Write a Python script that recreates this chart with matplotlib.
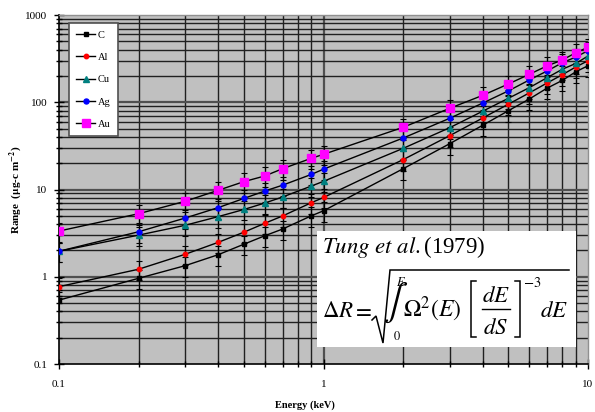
import matplotlib
matplotlib.use("Agg")
import matplotlib.pyplot as plt
import numpy as np
from matplotlib.lines import Line2D
from matplotlib.ticker import LogLocator, FixedLocator, NullFormatter, FixedFormatter

plt.rcParams['font.family'] = ['Liberation Serif', 'DejaVu Serif']
plt.rcParams['mathtext.fontset'] = 'stix'

energy = [0.1, 0.2, 0.3, 0.4, 0.5, 0.6, 0.7, 0.9, 1.0, 2, 3, 4, 5, 6, 7, 8, 9, 10]
range_C  = [0.54, 0.96, 1.34, 1.79, 2.36, 2.95, 3.52, 5.0, 5.7, 17.3, 33.5, 54.5, 80, 109, 145, 178, 224, 262]
range_Al = [0.77, 1.22, 1.81, 2.48, 3.24, 4.1, 4.97, 7.06, 8.1, 22.0, 41.4, 66, 95, 128, 166, 207, 254, 299]
range_Cu = [1.96, 3.0, 3.89, 4.89, 5.9, 7.0, 8.2, 10.96, 12.4, 29.6, 51.1, 79, 111, 147, 191, 239, 279, 339]
range_Ag = [1.96, 3.28, 4.71, 6.2, 7.9, 9.6, 11.2, 14.9, 17.1, 38.9, 65.5, 97.9, 135, 180, 228, 284, 330, 390]
range_Au = [3.34, 5.28, 7.33, 9.8, 12.3, 14.3, 17.3, 22.8, 25.3, 51.6, 85.2, 120, 162, 209, 261, 305, 370, 427]
rel_err = 0.25
series_names = ['C', 'Al', 'Cu', 'Ag', 'Au']
x_tick_labels = ['0.1', '1', '10']
y_tick_labels = ['0.1', '1', '10', '100', '1000']

series = [range_C, range_Al, range_Cu, range_Ag, range_Au]
colors = ['#000000', '#FF0000', '#008080', '#0000FF', '#FF00FF']
markers = ['s', 'o', '^', 'o', 's']
msizes = [3.0, 3.2, 4.0, 3.6, 5.2]

W, H = 595, 412
fig = plt.figure(figsize=(W / 100, H / 100), dpi=100)
ax = fig.add_axes([59/W, 1-364/H, (588-59)/W, (364-15)/H])
ax.set_facecolor('#C0C0C0')
ax.set_xscale('log')
ax.set_yscale('log')
ax.set_xlim(0.1, 10)
ax.set_ylim(0.1, 1000)

def P(x, y):
    return (x / W, 1 - y / H)

def L(xs, ys, lw=1.1):
    fig.add_artist(Line2D([x / W for x in xs], [1 - y / H for y in ys], color='black', lw=lw,
                          transform=fig.transFigure, zorder=7, solid_joinstyle='miter'))

# grid
for k in range(-1, 1):
    for m in range(1, 10):
        v = m * 10.0**k
        if 0.1 < v < 10:
            ax.axvline(v, color='#202020' if m != 1 else '#505050', lw=1.0 if m != 1 else 1.6, zorder=1)
for k in range(-1, 3):
    for m in range(1, 10):
        v = m * 10.0**k
        if 0.1 < v < 1000:
            ax.axhline(v, color='#202020' if m != 1 else '#505050', lw=1.0 if m != 1 else 1.6, zorder=1)

handles = []
for name, vals, c, mk, ms in zip(series_names, series, colors, markers, msizes):
    y = np.array(vals)
    ax.errorbar(energy, y, yerr=rel_err * y, fmt='none', ecolor='black', elinewidth=0.8,
                capsize=2.5, capthick=0.8, zorder=3)
    h, = ax.plot(energy, y, color='black', lw=1.0, marker=mk, markersize=ms,
                 markerfacecolor=c, markeredgecolor=c, zorder=4, label=name)
    handles.append(h)

ax.xaxis.set_major_locator(FixedLocator([0.1, 1, 10]))
ax.xaxis.set_major_formatter(FixedFormatter(x_tick_labels))
ax.xaxis.set_minor_locator(LogLocator(base=10, subs=np.arange(2, 10)))
ax.xaxis.set_minor_formatter(NullFormatter())
ax.yaxis.set_major_locator(FixedLocator([0.1, 1, 10, 100, 1000]))
ax.yaxis.set_major_formatter(FixedFormatter(y_tick_labels))
ax.yaxis.set_minor_locator(LogLocator(base=10, subs=np.arange(2, 10)))
ax.yaxis.set_minor_formatter(NullFormatter())
ax.tick_params(axis='both', which='both', direction='inout', color='black', width=1.0,
               labelsize=8, top=False, right=False)
ax.tick_params(axis='both', which='major', length=7)
ax.tick_params(axis='both', which='minor', length=5)
ax.tick_params(axis='x', which='major', pad=8)
ax.tick_params(axis='y', which='major', pad=5)

for side in ['left', 'bottom']:
    ax.spines[side].set_color('black')
    ax.spines[side].set_linewidth(1.2)
for side in ['top', 'right']:
    ax.spines[side].set_color('#909090')
    ax.spines[side].set_linewidth(1.0)

fig.text(*P(305, 405), 'Energy (keV)', fontsize=7.5, fontweight='bold', ha='center', va='center')
fig.text(*P(16, 190), r'Range  ($\mathbf{\mu}$g-c m$^{\mathbf{-2}}$)', fontsize=8, fontweight='bold',
         rotation=90, ha='center', va='center')

leg = ax.legend(handles=handles, loc='upper left', bbox_to_anchor=(10/529, 1-8/349),
                borderaxespad=0, fontsize=7.5, frameon=True, fancybox=False, edgecolor='#505050',
                framealpha=1.0, handlelength=1.8, labelspacing=1.25, borderpad=0.7,
                handletextpad=0.25)
leg.get_frame().set_linewidth(1.2)
leg.set_zorder(8)

# formula box
ax.add_patch(plt.Rectangle(((317-59)/529, (364-347)/349), (576-317)/529, (347-231)/349,
                           transform=ax.transAxes, facecolor='white', edgecolor='none', zorder=6))
fig.text(*P(322, 253), r'$\mathit{Tung\ et\ al}.$(1979)', fontsize=16.5, va='baseline', ha='left', zorder=7)

fs = 16.5
base = 317
fig.text(*P(322, base), r'$\Delta R$', fontsize=fs, va='baseline', ha='left', zorder=7)
fig.text(*P(362, base), r'$=$', fontsize=fs, va='baseline', ha='center', zorder=7)
# radical sign
L([372, 376, 383, 390, 569], [320, 316, 343, 270, 270])
fig.text(*P(396, 303), r'$\int$', fontsize=26, va='center', ha='center', zorder=7)
fig.text(*P(401, 282), r'$E$', fontsize=9, va='center', ha='center', zorder=7)
fig.text(*P(397, 337), r'$0$', fontsize=9, va='center', ha='center', zorder=7)
fig.text(*P(403, base), r'$\Omega^2(E)$', fontsize=17, va='baseline', ha='left', zorder=7)
# brackets
for bx, d in [(471, 5), (520, -5)]:
    L([bx + d, bx, bx, bx + d], [281, 281, 337, 337])
fig.text(*P(496, 302), r'$dE$', fontsize=fs, va='baseline', ha='center', zorder=7)
L([482, 510], [309, 309], lw=1.0)
fig.text(*P(496, 334), r'$dS$', fontsize=fs, va='baseline', ha='center', zorder=7)
fig.text(*P(523, 283), r'$-3$', fontsize=10.5, va='center', ha='left', zorder=7)
fig.text(*P(540, base), r'$dE$', fontsize=fs, va='baseline', ha='left', zorder=7)

fig.savefig('out.png', dpi=100)
